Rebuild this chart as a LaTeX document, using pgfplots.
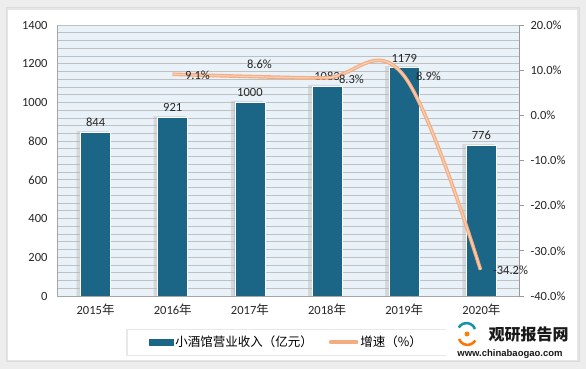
\documentclass[border=0pt]{standalone}
\usepackage{pgfplots}
\pgfplotsset{compat=1.18}
\usepackage{fontspec}
\setmainfont{Carlito}
\newfontfamily\cjk{Noto Sans CJK SC}
\newfontfamily\arialb{Liberation Sans}
\definecolor{barblue}{RGB}{27,101,135}
\definecolor{linecol}{RGB}{244,172,128}
\definecolor{lineinner}{RGB}{250,206,178}
\definecolor{bgblue}{RGB}{234,242,249}
\definecolor{gridc}{RGB}{192,192,192}
\newcommand\fs{\fontsize{12.5pt}{14pt}\selectfont}
\pgfkeys{/pgf/number format/1000 sep={}}
\begin{document}
\begin{tikzpicture}[x=1pt,y=1pt]
\fill[gray!14] (0,0) rectangle (586,369);
\fill[gray!28] (6,7) rectangle (580,362);
\fill[gray!20] (7,8) rectangle (579,361);
\fill[white] (8,9) rectangle (577,359);
\useasboundingbox (0,0) rectangle (586,369);
\fill[gray!18] (126,13) rectangle (446,40);
\fill[white] (128,14) rectangle (446,39);
\begin{axis}[
  at={(57pt,73pt)}, anchor=south west, scale only axis,
  width=463pt, height=271pt,
  xmin=-0.5, xmax=5.5, ymin=0, ymax=1400,
  xtick={0,...,5},
  xticklabels={2015{\cjk 年},2016{\cjk 年},2017{\cjk 年},2018{\cjk 年},2019{\cjk 年},2020{\cjk 年}},
  ytick={0,200,...,1400},
  minor ytick={0,40,...,1400},
  ymajorgrids, yminorgrids,
  major grid style={gridc, line width=0.8pt},
  minor grid style={gridc, line width=0.8pt},
  axis background/.style={fill=bgblue},
  axis x line*=bottom, axis y line*=left,
  axis line style={gray!70, line width=0.8pt},
  major tick length=0pt, minor tick length=0pt,
  /pgf/number format/assume math mode=true,
  /pgf/number format/1000 sep={},
  tick label style={font=\fs, text=black!85},
  yticklabel style={xshift=-6pt},
  xticklabel style={yshift=-4pt},
  ybar, bar width=30pt,
  legend style={at={(0.495,-0.17)}, anchor=center, legend columns=2,
    draw=none, fill=none, font=\cjk\fontsize{12.5pt}{14pt}\selectfont,
    /tikz/every even column/.append style={column sep=14pt}},
]
\addplot[fill=gray!55, draw=none, opacity=0.45, bar shift=-3pt, bar width=32pt, forget plot]
  coordinates {(0,852) (1,929) (2,1008) (3,1091) (4,1187) (5,784)};
\addplot[fill=barblue, draw=white, line width=0.8pt,
  nodes near coords, every node near coord/.append style={font=\fs, text=black!85, yshift=2pt, /pgf/number format/1000 sep={}},
  legend image code/.code={\fill[barblue] (0pt,-3pt) rectangle (24pt,3pt);}]
  coordinates {(0,844) (1,921) (2,1000) (3,1083) (4,1179) (5,776)};
\addlegendentry{小酒馆营业收入（亿元）}
\addlegendimage{legend image code/.code={\draw[linecol, line width=3.5pt, line cap=round] (0pt,0pt)--(26pt,0pt);}}
\addlegendentry{增速（\%）}
\end{axis}
\begin{axis}[
  at={(57pt,73pt)}, anchor=south west, scale only axis,
  width=462pt, height=271pt,
  xmin=-0.5, xmax=5.5, ymin=-40, ymax=20,
  axis x line=none, axis y line*=right,
  axis line style={gray!80, line width=0.8pt},
  ytick={-40,-30,...,20},
  tick align=outside, major tick length=5pt,
  tick style={gray!80, line width=0.8pt},
  clip=false,
  /pgf/number format/assume math mode=true,
  yticklabel={\pgfmathprintnumber[fixed,fixed zerofill,precision=1]{\tick}\%},
  tick label style={font=\fs, text=black!85},
  yticklabel style={xshift=3pt},
]
\addplot[linecol, line width=3.6pt, smooth, tension=0.65]
  coordinates {(1,9.1) (2,8.6) (3,8.3) (4,8.9) (5,-34.2)};
\addplot[lineinner, line width=1.2pt, smooth, tension=0.65]
  coordinates {(1,9.1) (2,8.6) (3,8.3) (4,8.9) (5,-34.2)};
\node[font=\fs, anchor=west, text=black!85] at (axis cs:1,9.1) [xshift=9pt, yshift=-1pt] {9.1\%};
\node[font=\fs, anchor=south, text=black!85] at (axis cs:2,8.6) [xshift=10pt, yshift=4pt] {8.6\%};
\node[font=\fs, anchor=west, text=black!85] at (axis cs:3,8.3) [xshift=9pt, yshift=-1pt] {8.3\%};
\node[font=\fs, anchor=west, text=black!85] at (axis cs:4,8.9) [xshift=9pt, yshift=-1pt] {8.9\%};
\node[font=\fs, anchor=west, text=black!85] at (axis cs:5,-34.2) [xshift=9pt] {-34.2\%};
\end{axis}
% logo
\begin{scope}
\draw[orange!90!red, line width=2.5pt] (459,30) arc[start angle=200, end angle=330, radius=9pt];
\draw[barblue!70!cyan, line width=2.5pt] (475,40) arc[start angle=20, end angle=150, radius=9pt];
\fill[orange] (467,35) circle (2.5pt);
\end{scope}
\node[anchor=west, font=\cjk\bfseries\fontsize{16pt}{18pt}\selectfont, text=black!90] at (485,35) {观研报告网};
\node[anchor=center, font=\arialb\bfseries\fontsize{9.5pt}{11pt}\selectfont, text=black!90] at (510,15) {www.chinabaogao.com};
\end{tikzpicture}
\end{document}
